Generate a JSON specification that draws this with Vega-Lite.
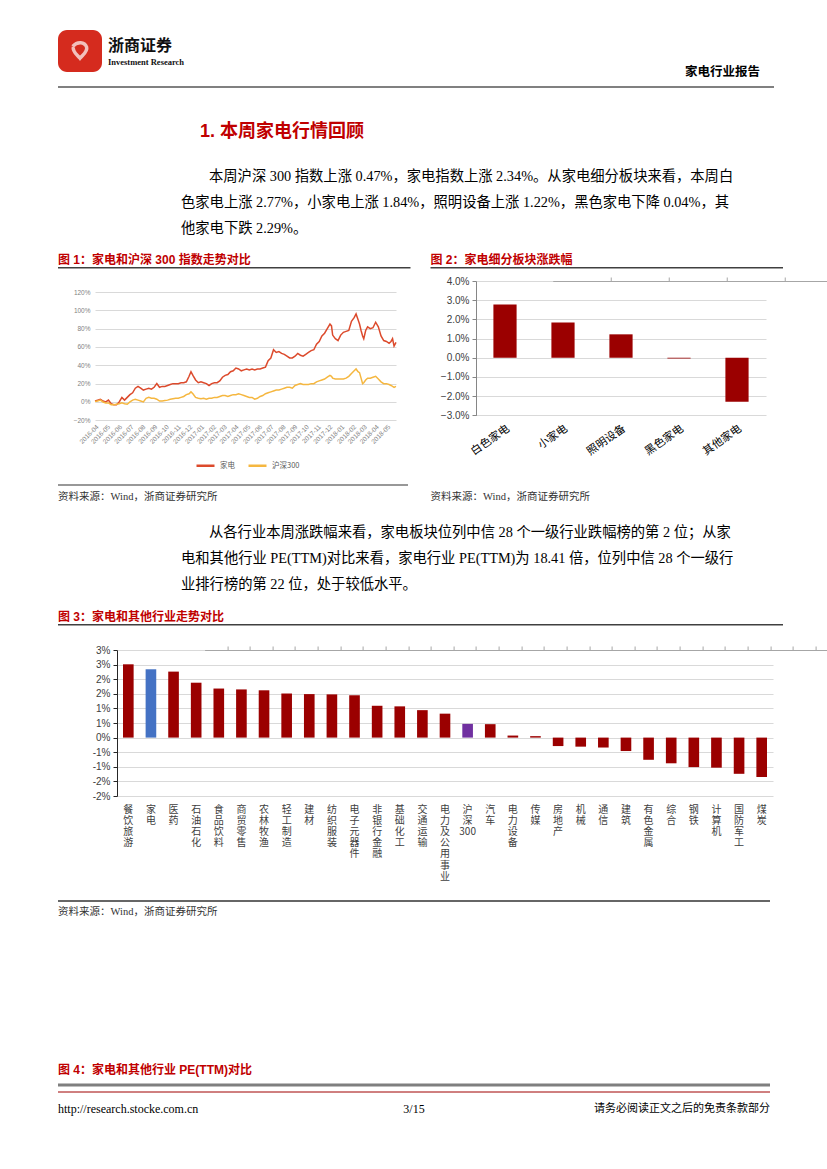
{
  "$schema": "https://vega.github.io/schema/vega-lite/v6.json",
  "background": "white",
  "padding": {"left": 55, "top": 30, "right": 0, "bottom": 0},
  "config": {"view": {"stroke": null}},
  "spacing": 0,
  "bounds": "flush",
  "resolve": {"scale": {"color": "independent"}, "legend": {"color": "independent"}},
  "vconcat": [
    {
      "hconcat": [
        {
          "width": 44, "height": 42,
          "view": {"fill": "#d52b1e", "cornerRadius": 9, "stroke": null},
          "data": {"values": [{}]},
          "mark": {"type": "point", "shape": "M-0.55,-0.35 C-0.2,-0.75 0.35,-0.7 0.5,-0.3 C0.6,0.05 0.2,0.3 0,0.55 C-0.2,0.3 -0.6,0.05 -0.5,-0.3", "filled": false, "stroke": "white", "strokeWidth": 3.5, "size": 700},
          "encoding": {}
        },
        {
          "width": 12, "height": 48,
          "layer": [
            {
              "data": {"values": [{"t": "浙商证券", "r": 1}]},
              "mark": {"type": "text", "align": "left", "baseline": "middle", "font": "Noto Sans CJK SC", "fontSize": 16, "fontWeight": "bold", "color": "#111"},
              "encoding": {"y": {"field": "r", "type": "ordinal", "scale": {"type": "point", "domain": [1, 2], "padding": 1}, "axis": null}, "text": {"field": "t"}}
            },
            {
              "data": {"values": [{"t": "Investment Research", "r": 2}]},
              "mark": {"type": "text", "align": "left", "baseline": "middle", "font": "Liberation Serif", "fontSize": 8.5, "fontWeight": "bold", "color": "#111"},
              "encoding": {"y": {"field": "r", "type": "ordinal", "scale": {"type": "point", "domain": [1, 2], "padding": 1}, "axis": null}, "text": {"field": "t"}}
            }
          ]
        }
      ],
      "spacing": 0,
      "bounds": "flush"
    },
    {"width": 1, "height": 30, "data": {"values": [{}]}, "mark": {"type": "point", "opacity": 0}, "encoding": {}},
    {
      "width": 716, "height": 27,
      "layer": [
        {"data": {"values": [{}]}, "mark": {"type": "rule", "color": "#808080", "strokeWidth": 2}, "encoding": {"y": {"value": "height"}}},
        {"data": {"values": [{"t": "家电行业报告"}]}, "mark": {"type": "text", "align": "right", "baseline": "alphabetic", "dx": -14, "dy": 2, "font": "Noto Sans CJK SC", "fontSize": 12.5, "fontWeight": "bold", "color": "#000"}, "encoding": {"x": {"value": "width"}, "text": {"field": "t"}}}
      ]
    },
    {
      "width": 284, "height": 77,
      "data": {"values": [{"t": "1. 本周家电行情回顾"}]},
      "mark": {"type": "text", "align": "left", "baseline": "middle", "dy": 6, "font": "Liberation Sans, Noto Sans CJK SC", "fontSize": 18, "fontWeight": "bold", "color": "#c00000"},
      "encoding": {"text": {"field": "t"}}
    },
    {
      "width": 246, "height": 78,
      "layer": [
        {
          "data": {"values": [{"line": 1, "t": "本周沪深 300 指数上涨 0.47%，家电指数上涨 2.34%。从家电细分板块来看，本周白"}]},
          "mark": {"type": "text", "align": "left", "baseline": "middle", "dx": 28, "font": "Liberation Serif, Noto Sans CJK SC", "fontSize": 14.3, "color": "#000"},
          "encoding": {"y": {"field": "line", "type": "ordinal", "scale": {"type": "point", "padding": 0.5, "domain": [1, 2, 3]}, "axis": null}, "text": {"field": "t"}}
        },
        {
          "data": {"values": [
            {"line": 2, "t": "色家电上涨 2.77%，小家电上涨 1.84%，照明设备上涨 1.22%，黑色家电下降 0.04%，其"},
            {"line": 3, "t": "他家电下跌 2.29%。"}
          ]},
          "mark": {"type": "text", "align": "left", "baseline": "middle", "font": "Liberation Serif, Noto Sans CJK SC", "fontSize": 14.3, "color": "#000"},
          "encoding": {"y": {"field": "line", "type": "ordinal", "scale": {"type": "point", "padding": 0.5, "domain": [1, 2, 3]}, "axis": null}, "text": {"field": "t"}}
        }
      ]
    },
    {
      "width": 725, "height": 25,
      "data": {"values": [{"seg": "a", "t": "图 1：家电和沪深 300 指数走势对比"}, {"seg": "b", "t": "图 2：家电细分板块涨跌幅"}]},
      "mark": {"type": "text", "align": "left", "baseline": "middle", "dy": 5.5, "font": "Liberation Sans, Noto Sans CJK SC", "fontSize": 12, "fontWeight": "bold", "color": "#c00000"},
      "encoding": {"x": {"field": "seg", "type": "nominal", "bandPosition": 0, "scale": {"type": "band", "paddingInner": 0.0537, "paddingOuter": 0}, "axis": null}, "text": {"field": "t"}}
    },
    {
      "width": 725, "height": 1.5,
      "data": {"values": [{"seg": "a"}, {"seg": "b"}]},
      "mark": {"type": "bar", "color": "#404040"},
      "encoding": {"x": {"field": "seg", "type": "nominal", "scale": {"type": "band", "paddingInner": 0.0537, "paddingOuter": 0}, "axis": null}}
    },
    {"width": 1, "height": 11.5, "data": {"values": [{}]}, "mark": {"type": "point", "opacity": 0}, "encoding": {}},
    {
      "hconcat": [
        {"width": 418, "height": 1, "data": {"values": [{}]}, "mark": {"type": "point", "opacity": 0}, "encoding": {}},
        {
          "width": 290, "height": 134.3,
          "data": {"values": [
            {"cat": "白色家电", "v": 0.0277},
            {"cat": "小家电", "v": 0.0184},
            {"cat": "照明设备", "v": 0.0122},
            {"cat": "黑色家电", "v": -0.0004},
            {"cat": "其他家电", "v": -0.0229}
          ]},
          "layer": [
            {
              "mark": {"type": "bar", "color": "#9b0000"},
              "encoding": {
                "x": {"field": "cat", "type": "nominal", "sort": null, "scale": {"paddingInner": 0.6, "paddingOuter": 0.3},
                  "axis": {"title": null, "labelAngle": -35, "labelFont": "Noto Sans CJK SC", "labelFontSize": 11, "labelColor": "#000", "domain": false, "ticks": false, "labelPadding": 7, "labelOverlap": false}},
                "y": {"field": "v", "type": "quantitative", "scale": {"domain": [-0.03, 0.04], "nice": false},
                  "axis": {"title": null, "values": [-0.03, -0.02, -0.01, 0, 0.01, 0.02, 0.03, 0.04], "format": ".1%", "labelFont": "Liberation Sans", "labelFontSize": 10, "labelColor": "#404040", "domainColor": "#868686", "tickColor": "#868686", "tickSize": 4, "gridColor": "#d9d9d9", "labelPadding": 3}}
              }
            },
            {
              "mark": {"type": "point", "opacity": 0},
              "encoding": {
                "x": {"field": "cat", "type": "nominal", "sort": null,
                  "axis": {"title": null, "labels": false, "position": 76.74, "domainColor": "#a6a6a6", "tickColor": "#a6a6a6", "tickSize": 4, "tickOffset": 29, "grid": false}}
              }
            }
          ],
          "resolve": {"axis": {"x": "independent"}}
        }
      ],
      "spacing": 0,
      "bounds": "flush"
    },
    {"width": 1, "height": 10.7, "data": {"values": [{}]}, "mark": {"type": "point", "opacity": 0}, "encoding": {}},
    {
      "hconcat": [
        {"width": 36.7, "height": 1, "data": {"values": [{}]}, "mark": {"type": "point", "opacity": 0}, "encoding": {}},
        {
          "width": 301, "height": 128.3,
          "data": {"values": [
            {"date": "2016-04-01", "家电": 0.01, "沪深300": 0.005},
            {"date": "2016-04-08", "家电": 0.02, "沪深300": 0.01},
            {"date": "2016-04-15", "家电": 0.03, "沪深300": 0.02},
            {"date": "2016-04-22", "家电": 0.01, "沪深300": 0.0},
            {"date": "2016-04-29", "家电": 0.0, "沪深300": -0.01},
            {"date": "2016-05-06", "家电": 0.02, "沪深300": -0.01},
            {"date": "2016-05-13", "家电": -0.02, "沪深300": -0.03},
            {"date": "2016-05-20", "家电": -0.03, "沪深300": -0.03},
            {"date": "2016-05-27", "家电": -0.03, "沪深300": -0.025},
            {"date": "2016-06-03", "家电": 0.0, "沪深300": -0.02},
            {"date": "2016-06-10", "家电": 0.05, "沪深300": -0.01},
            {"date": "2016-06-17", "家电": 0.02, "沪深300": -0.02},
            {"date": "2016-06-24", "家电": 0.05, "沪深300": -0.025},
            {"date": "2016-07-01", "家电": 0.08, "沪深300": 0.0},
            {"date": "2016-07-08", "家电": 0.10, "沪深300": 0.02},
            {"date": "2016-07-15", "家电": 0.15, "沪深300": 0.03},
            {"date": "2016-07-22", "家电": 0.17, "沪深300": 0.02},
            {"date": "2016-07-29", "家电": 0.15, "沪深300": 0.01},
            {"date": "2016-08-05", "家电": 0.13, "沪深300": 0.0},
            {"date": "2016-08-12", "家电": 0.14, "沪深300": 0.04},
            {"date": "2016-08-19", "家电": 0.15, "沪深300": 0.05},
            {"date": "2016-08-26", "家电": 0.14, "沪深300": 0.04},
            {"date": "2016-09-02", "家电": 0.16, "沪深300": 0.04},
            {"date": "2016-09-09", "家电": 0.20, "沪深300": 0.03},
            {"date": "2016-09-16", "家电": 0.16, "沪深300": 0.01},
            {"date": "2016-09-23", "家电": 0.17, "沪深300": 0.01},
            {"date": "2016-09-30", "家电": 0.17, "沪深300": 0.015},
            {"date": "2016-10-07", "家电": 0.18, "沪深300": 0.02},
            {"date": "2016-10-14", "家电": 0.19, "沪深300": 0.03},
            {"date": "2016-10-21", "家电": 0.20, "沪深300": 0.035},
            {"date": "2016-10-28", "家电": 0.20, "沪深300": 0.04},
            {"date": "2016-11-04", "家电": 0.20, "沪深300": 0.04},
            {"date": "2016-11-11", "家电": 0.21, "沪深300": 0.05},
            {"date": "2016-11-18", "家电": 0.21, "沪深300": 0.06},
            {"date": "2016-11-25", "家电": 0.22, "沪深300": 0.08},
            {"date": "2016-12-02", "家电": 0.28, "沪深300": 0.09},
            {"date": "2016-12-07", "家电": 0.33, "沪深300": 0.11},
            {"date": "2016-12-12", "家电": 0.29, "沪深300": 0.09},
            {"date": "2016-12-19", "家电": 0.24, "沪深300": 0.05},
            {"date": "2016-12-26", "家电": 0.21, "沪深300": 0.04},
            {"date": "2017-01-02", "家电": 0.22, "沪深300": 0.035},
            {"date": "2017-01-09", "家电": 0.21, "沪深300": 0.04},
            {"date": "2017-01-16", "家电": 0.20, "沪深300": 0.03},
            {"date": "2017-01-23", "家电": 0.18, "沪深300": 0.04},
            {"date": "2017-01-30", "家电": 0.20, "沪深300": 0.04},
            {"date": "2017-02-06", "家电": 0.21, "沪深300": 0.05},
            {"date": "2017-02-13", "家电": 0.21, "沪深300": 0.05},
            {"date": "2017-02-20", "家电": 0.23, "沪深300": 0.06},
            {"date": "2017-02-27", "家电": 0.27, "沪深300": 0.07},
            {"date": "2017-03-06", "家电": 0.29, "沪深300": 0.07},
            {"date": "2017-03-13", "家电": 0.30, "沪深300": 0.06},
            {"date": "2017-03-20", "家电": 0.33, "沪深300": 0.07},
            {"date": "2017-03-27", "家电": 0.34, "沪深300": 0.08},
            {"date": "2017-04-03", "家电": 0.37, "沪深300": 0.08},
            {"date": "2017-04-10", "家电": 0.36, "沪深300": 0.09},
            {"date": "2017-04-17", "家电": 0.34, "沪深300": 0.08},
            {"date": "2017-04-24", "家电": 0.35, "沪深300": 0.07},
            {"date": "2017-05-01", "家电": 0.36, "沪深300": 0.06},
            {"date": "2017-05-08", "家电": 0.35, "沪深300": 0.05},
            {"date": "2017-05-15", "家电": 0.36, "沪深300": 0.05},
            {"date": "2017-05-22", "家电": 0.35, "沪深300": 0.03},
            {"date": "2017-05-29", "家电": 0.36, "沪深300": 0.04},
            {"date": "2017-06-05", "家电": 0.36, "沪深300": 0.06},
            {"date": "2017-06-12", "家电": 0.37, "沪深300": 0.07},
            {"date": "2017-06-19", "家电": 0.38, "沪深300": 0.09},
            {"date": "2017-06-26", "家电": 0.45, "沪深300": 0.10},
            {"date": "2017-07-03", "家电": 0.48, "沪深300": 0.11},
            {"date": "2017-07-10", "家电": 0.57, "沪深300": 0.12},
            {"date": "2017-07-17", "家电": 0.54, "沪深300": 0.13},
            {"date": "2017-07-24", "家电": 0.55, "沪深300": 0.13},
            {"date": "2017-07-31", "家电": 0.53, "沪深300": 0.14},
            {"date": "2017-08-07", "家电": 0.52, "沪深300": 0.15},
            {"date": "2017-08-14", "家电": 0.50, "沪深300": 0.16},
            {"date": "2017-08-21", "家电": 0.48, "沪深300": 0.16},
            {"date": "2017-08-28", "家电": 0.48, "沪深300": 0.15},
            {"date": "2017-09-04", "家电": 0.50, "沪深300": 0.18},
            {"date": "2017-09-11", "家电": 0.53, "沪深300": 0.19},
            {"date": "2017-09-18", "家电": 0.51, "沪深300": 0.20},
            {"date": "2017-09-25", "家电": 0.50, "沪深300": 0.19},
            {"date": "2017-10-02", "家电": 0.52, "沪深300": 0.19},
            {"date": "2017-10-09", "家电": 0.54, "沪深300": 0.19},
            {"date": "2017-10-16", "家电": 0.56, "沪深300": 0.20},
            {"date": "2017-10-23", "家电": 0.57, "沪深300": 0.20},
            {"date": "2017-10-30", "家电": 0.63, "沪深300": 0.22},
            {"date": "2017-11-06", "家电": 0.66, "沪深300": 0.23},
            {"date": "2017-11-13", "家电": 0.72, "沪深300": 0.24},
            {"date": "2017-11-20", "家电": 0.75, "沪深300": 0.25},
            {"date": "2017-11-27", "家电": 0.80, "沪深300": 0.27},
            {"date": "2017-12-04", "家电": 0.85, "沪深300": 0.29},
            {"date": "2017-12-08", "家电": 0.83, "沪深300": 0.28},
            {"date": "2017-12-11", "家电": 0.73, "沪深300": 0.26},
            {"date": "2017-12-18", "家电": 0.69, "沪深300": 0.25},
            {"date": "2017-12-25", "家电": 0.67, "沪深300": 0.25},
            {"date": "2018-01-01", "家电": 0.73, "沪深300": 0.25},
            {"date": "2018-01-08", "家电": 0.76, "沪深300": 0.25},
            {"date": "2018-01-15", "家电": 0.77, "沪深300": 0.26},
            {"date": "2018-01-22", "家电": 0.78, "沪深300": 0.28},
            {"date": "2018-01-29", "家电": 0.88, "沪深300": 0.31},
            {"date": "2018-02-05", "家电": 0.92, "沪深300": 0.34},
            {"date": "2018-02-10", "家电": 0.96, "沪深300": 0.36},
            {"date": "2018-02-15", "家电": 0.90, "沪深300": 0.33},
            {"date": "2018-02-19", "家电": 0.85, "沪深300": 0.32},
            {"date": "2018-02-23", "家电": 0.78, "沪深300": 0.26},
            {"date": "2018-02-27", "家电": 0.72, "沪深300": 0.20},
            {"date": "2018-03-02", "家电": 0.69, "沪深300": 0.21},
            {"date": "2018-03-07", "家电": 0.78, "沪深300": 0.24},
            {"date": "2018-03-12", "家电": 0.82, "沪深300": 0.26},
            {"date": "2018-03-19", "家电": 0.80, "沪深300": 0.26},
            {"date": "2018-03-26", "家电": 0.81, "沪深300": 0.27},
            {"date": "2018-04-02", "家电": 0.87, "沪深300": 0.28},
            {"date": "2018-04-09", "家电": 0.82, "沪深300": 0.25},
            {"date": "2018-04-16", "家电": 0.72, "沪深300": 0.22},
            {"date": "2018-04-23", "家电": 0.67, "沪深300": 0.20},
            {"date": "2018-04-30", "家电": 0.66, "沪深300": 0.20},
            {"date": "2018-05-07", "家电": 0.64, "沪深300": 0.19},
            {"date": "2018-05-12", "家电": 0.66, "沪深300": 0.18},
            {"date": "2018-05-16", "家电": 0.69, "沪深300": 0.17},
            {"date": "2018-05-20", "家电": 0.61, "沪深300": 0.16},
            {"date": "2018-05-25", "家电": 0.65, "沪深300": 0.17}
          ]},
          "transform": [{"fold": ["家电", "沪深300"], "as": ["series", "value"]}],
          "mark": {"type": "line", "strokeWidth": 1.5},
          "encoding": {
            "x": {"field": "date", "type": "temporal", "scale": {"type": "utc", "nice": false},
              "axis": {"title": null, "format": "%Y-%m", "tickCount": {"interval": "month", "step": 1}, "labelAngle": -45, "labelFont": "Liberation Sans", "labelFontSize": 6.5, "labelColor": "#7f7f7f", "domain": false, "ticks": false, "grid": false, "labelPadding": 3, "labelOverlap": false, "labelFlush": false}},
            "y": {"field": "value", "type": "quantitative", "scale": {"domain": [-0.2, 1.2], "nice": false, "zero": false},
              "axis": {"title": null, "values": [-0.2, 0, 0.2, 0.4, 0.6, 0.8, 1.0, 1.2], "format": ".0%", "labelFont": "Liberation Sans", "labelFontSize": 6.5, "labelColor": "#7f7f7f", "domain": false, "ticks": false, "gridColor": "#d9d9d9", "labelPadding": 5}},
            "color": {"field": "series", "type": "nominal", "sort": ["家电", "沪深300"], "scale": {"domain": ["家电", "沪深300"], "range": ["#dc4a2c", "#f5b740"]},
              "legend": {"title": null, "orient": "none", "legendX": 100, "legendY": 163, "direction": "horizontal", "symbolType": "stroke", "symbolSize": 324, "symbolStrokeWidth": 2.5, "labelFont": "Noto Sans CJK SC", "labelFontSize": 7.5, "labelColor": "#595959", "columnPadding": 8}}
          }
        }
      ],
      "spacing": 0,
      "bounds": "flush",
      "resolve": {"scale": {"color": "independent"}, "legend": {"color": "independent"}}
    },
    {"width": 1, "height": 191.3, "data": {"values": [{}]}, "mark": {"type": "point", "opacity": 0}, "encoding": {}},
    {
      "width": 350, "height": 1,
      "data": {"values": [{}]},
      "mark": {"type": "rule", "color": "#333333", "strokeWidth": 1.2},
      "encoding": {"y": {"value": "height"}}
    },
    {
      "width": 725, "height": 24,
      "data": {"values": [{"seg": "a", "t": "资料来源：Wind，浙商证券研究所"}, {"seg": "b", "t": "资料来源：Wind，浙商证券研究所"}]},
      "mark": {"type": "text", "align": "left", "baseline": "middle", "font": "Liberation Serif, Noto Sans CJK SC", "fontSize": 10.5, "color": "#333"},
      "encoding": {"x": {"field": "seg", "type": "nominal", "bandPosition": 0, "scale": {"type": "band", "paddingInner": 0.0537, "paddingOuter": 0}, "axis": null}, "text": {"field": "t"}}
    },
    {"width": 1, "height": 11, "data": {"values": [{}]}, "mark": {"type": "point", "opacity": 0}, "encoding": {}},
    {
      "width": 246, "height": 78,
      "layer": [
        {
          "data": {"values": [{"line": 1, "t": "从各行业本周涨跌幅来看，家电板块位列中信 28 个一级行业跌幅榜的第 2 位；从家"}]},
          "mark": {"type": "text", "align": "left", "baseline": "middle", "dx": 28, "font": "Liberation Serif, Noto Sans CJK SC", "fontSize": 14.3, "color": "#000"},
          "encoding": {"y": {"field": "line", "type": "ordinal", "scale": {"type": "point", "padding": 0.5, "domain": [1, 2, 3]}, "axis": null}, "text": {"field": "t"}}
        },
        {
          "data": {"values": [
            {"line": 2, "t": "电和其他行业 PE(TTM)对比来看，家电行业 PE(TTM)为 18.41 倍，位列中信 28 个一级行"},
            {"line": 3, "t": "业排行榜的第 22 位，处于较低水平。"}
          ]},
          "mark": {"type": "text", "align": "left", "baseline": "middle", "font": "Liberation Serif, Noto Sans CJK SC", "fontSize": 14.3, "color": "#000"},
          "encoding": {"y": {"field": "line", "type": "ordinal", "scale": {"type": "point", "padding": 0.5, "domain": [1, 2, 3]}, "axis": null}, "text": {"field": "t"}}
        }
      ]
    },
    {
      "width": 725, "height": 26,
      "data": {"values": [{"seg": "a", "t": "图 3：家电和其他行业走势对比"}]},
      "mark": {"type": "text", "align": "left", "baseline": "middle", "dy": 6, "font": "Liberation Sans, Noto Sans CJK SC", "fontSize": 12, "fontWeight": "bold", "color": "#c00000"},
      "encoding": {"x": {"field": "seg", "type": "nominal", "bandPosition": 0, "scale": {"type": "band", "paddingInner": 0, "paddingOuter": 0}, "axis": null}, "text": {"field": "t"}}
    },
    {
      "width": 725, "height": 1.5,
      "data": {"values": [{"seg": "a"}]},
      "mark": {"type": "bar", "color": "#404040"},
      "encoding": {"x": {"field": "seg", "type": "nominal", "scale": {"type": "band", "paddingInner": 0, "paddingOuter": 0}, "axis": null}}
    },
    {"width": 1, "height": 23.2, "data": {"values": [{}]}, "mark": {"type": "point", "opacity": 0}, "encoding": {}},
    {
      "hconcat": [
        {"width": 59, "height": 1, "data": {"values": [{}]}, "mark": {"type": "point", "opacity": 0}, "encoding": {}},
        {
          "width": 656, "height": 146,
          "data": {"values": [
            {"ind": "餐饮旅游", "v": 0.0251, "grp": "行业"},
            {"ind": "家电", "v": 0.0234, "grp": "家电"},
            {"ind": "医药", "v": 0.0226, "grp": "行业"},
            {"ind": "石油石化", "v": 0.0188, "grp": "行业"},
            {"ind": "食品饮料", "v": 0.0168, "grp": "行业"},
            {"ind": "商贸零售", "v": 0.0165, "grp": "行业"},
            {"ind": "农林牧渔", "v": 0.0162, "grp": "行业"},
            {"ind": "轻工制造", "v": 0.0151, "grp": "行业"},
            {"ind": "建材", "v": 0.0149, "grp": "行业"},
            {"ind": "纺织服装", "v": 0.0148, "grp": "行业"},
            {"ind": "电子元器件", "v": 0.0145, "grp": "行业"},
            {"ind": "非银行金融", "v": 0.0109, "grp": "行业"},
            {"ind": "基础化工", "v": 0.0107, "grp": "行业"},
            {"ind": "交通运输", "v": 0.0094, "grp": "行业"},
            {"ind": "电力及公用事业", "v": 0.0082, "grp": "行业"},
            {"ind": "沪深300", "v": 0.0047, "grp": "沪深300"},
            {"ind": "汽车", "v": 0.0046, "grp": "行业"},
            {"ind": "电力设备", "v": 0.0007, "grp": "行业"},
            {"ind": "传媒", "v": 0.0005, "grp": "行业"},
            {"ind": "房地产", "v": -0.0029, "grp": "行业"},
            {"ind": "机械", "v": -0.0031, "grp": "行业"},
            {"ind": "通信", "v": -0.0034, "grp": "行业"},
            {"ind": "建筑", "v": -0.0046, "grp": "行业"},
            {"ind": "有色金属", "v": -0.0076, "grp": "行业"},
            {"ind": "综合", "v": -0.0088, "grp": "行业"},
            {"ind": "钢铁", "v": -0.0101, "grp": "行业"},
            {"ind": "计算机", "v": -0.0103, "grp": "行业"},
            {"ind": "国防军工", "v": -0.0124, "grp": "行业"},
            {"ind": "煤炭", "v": -0.0135, "grp": "行业"}
          ]},
          "layer": [
            {
              "mark": {"type": "bar"},
              "encoding": {
                "x": {"field": "ind", "type": "nominal", "sort": null, "scale": {"paddingInner": 0.53, "paddingOuter": 0.265},
                  "axis": {"title": null, "labelAngle": 0, "labelAlign": "center", "labelBaseline": "top", "labelExpr": "datum.label == '沪深300' ? ['沪','深','300'] : split(datum.label, '')", "labelLineHeight": 11.2, "labelFont": "Noto Sans CJK SC", "labelFontSize": 10, "labelColor": "#404040", "labelPadding": 8, "domain": false, "ticks": false, "labelOverlap": false}},
                "y": {"field": "v", "type": "quantitative", "scale": {"domain": [-0.02, 0.03], "nice": false},
                  "axis": {"title": null, "values": [-0.02, -0.015, -0.01, -0.005, 0, 0.005, 0.01, 0.015, 0.02, 0.025, 0.03], "labelExpr": "(datum.value < 0 ? '-' : '') + ceil(abs(datum.value) * 100 - 1e-9) + '%'", "labelFont": "Liberation Sans", "labelFontSize": 10, "labelColor": "#404040", "domainColor": "#262626", "tickColor": "#262626", "tickSize": 4, "gridColor": "#d9d9d9", "labelPadding": 3}},
                "color": {"field": "grp", "type": "nominal", "scale": {"domain": ["行业", "家电", "沪深300"], "range": ["#9b0000", "#4472c4", "#7030a0"]}, "legend": null}
              }
            },
            {
              "mark": {"type": "point", "opacity": 0},
              "encoding": {
                "x": {"field": "ind", "type": "nominal", "sort": null,
                  "axis": {"title": null, "labels": false, "position": 87.6, "domainColor": "#a6a6a6", "tickColor": "#a6a6a6", "tickSize": 4, "tickOffset": 11.31, "grid": false}}
              }
            }
          ],
          "resolve": {"axis": {"x": "independent"}}
        }
      ],
      "spacing": 0,
      "bounds": "flush",
      "resolve": {"scale": {"color": "independent"}, "legend": {"color": "independent"}}
    },
    {"width": 1, "height": 249.3, "data": {"values": [{}]}, "mark": {"type": "point", "opacity": 0}, "encoding": {}},
    {
      "width": 712, "height": 1,
      "data": {"values": [{}]},
      "mark": {"type": "rule", "color": "#333333", "strokeWidth": 1.5},
      "encoding": {"y": {"value": "height"}}
    },
    {
      "width": 725, "height": 22,
      "data": {"values": [{"seg": "a", "t": "资料来源：Wind，浙商证券研究所"}]},
      "mark": {"type": "text", "align": "left", "baseline": "middle", "font": "Liberation Serif, Noto Sans CJK SC", "fontSize": 10.5, "color": "#333"},
      "encoding": {"x": {"field": "seg", "type": "nominal", "bandPosition": 0, "scale": {"type": "band", "paddingInner": 0, "paddingOuter": 0}, "axis": null}, "text": {"field": "t"}}
    },
    {"width": 1, "height": 137, "data": {"values": [{}]}, "mark": {"type": "point", "opacity": 0}, "encoding": {}},
    {
      "width": 725, "height": 20,
      "data": {"values": [{"seg": "a", "t": "图 4：家电和其他行业 PE(TTM)对比"}]},
      "mark": {"type": "text", "align": "left", "baseline": "middle", "font": "Liberation Sans, Noto Sans CJK SC", "fontSize": 12, "fontWeight": "bold", "color": "#c00000"},
      "encoding": {"x": {"field": "seg", "type": "nominal", "bandPosition": 0, "scale": {"type": "band", "paddingInner": 0, "paddingOuter": 0}, "axis": null}, "text": {"field": "t"}}
    },
    {
      "width": 712, "height": 5,
      "data": {"values": [{}]},
      "mark": {"type": "rule", "color": "#7f7f7f", "strokeWidth": 3},
      "encoding": {"y": {"value": "height"}}
    },
    {
      "width": 712, "height": 7,
      "data": {"values": [{}]},
      "mark": {"type": "rule", "color": "#a00000", "strokeWidth": 1},
      "encoding": {"y": {"value": "height"}}
    },
    {
      "width": 712, "height": 34,
      "layer": [
        {
          "data": {"values": [{"pos": "L", "t": "http://research.stocke.com.cn"}]},
          "mark": {"type": "text", "align": "left", "baseline": "middle", "font": "Liberation Serif", "fontSize": 12, "color": "#000"},
          "encoding": {"x": {"field": "pos", "type": "nominal", "bandPosition": 0, "scale": {"type": "band", "domain": ["L", "C", "R"], "paddingInner": 0, "paddingOuter": 0}, "axis": null}, "text": {"field": "t"}}
        },
        {
          "data": {"values": [{"pos": "C", "t": "3/15"}]},
          "mark": {"type": "text", "align": "center", "baseline": "middle", "font": "Liberation Serif", "fontSize": 12, "color": "#000"},
          "encoding": {"x": {"field": "pos", "type": "nominal", "bandPosition": 0.5, "scale": {"type": "band", "domain": ["L", "C", "R"], "paddingInner": 0, "paddingOuter": 0}, "axis": null}, "text": {"field": "t"}}
        },
        {
          "data": {"values": [{"pos": "R", "t": "请务必阅读正文之后的免责条款部分"}]},
          "mark": {"type": "text", "align": "right", "baseline": "middle", "font": "Noto Sans CJK SC", "fontSize": 11, "color": "#000"},
          "encoding": {"x": {"field": "pos", "type": "nominal", "bandPosition": 1, "scale": {"type": "band", "domain": ["L", "C", "R"], "paddingInner": 0, "paddingOuter": 0}, "axis": null}, "text": {"field": "t"}}
        }
      ]
    }
  ]
}
